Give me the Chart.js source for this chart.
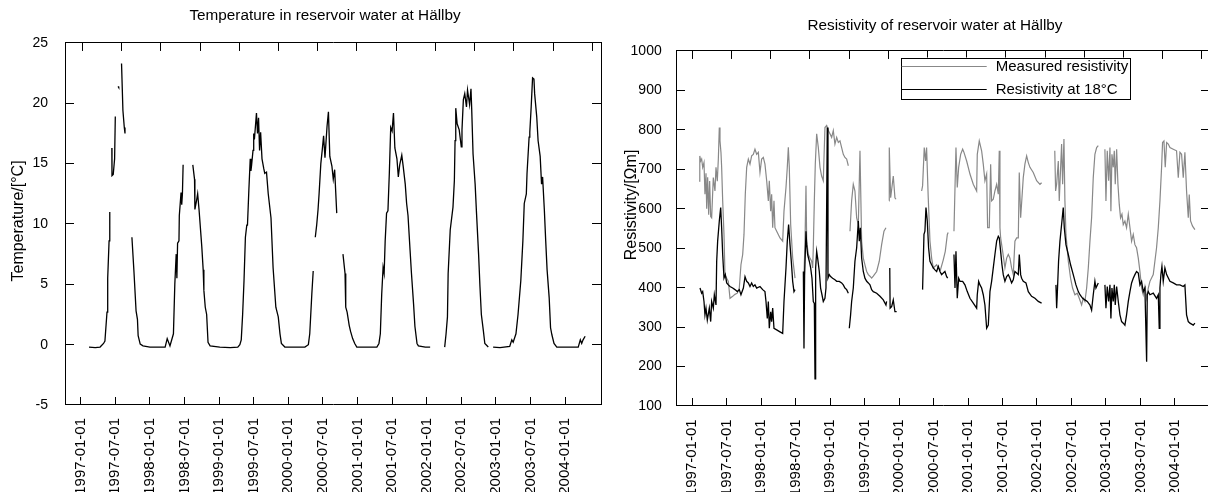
<!DOCTYPE html>
<html><head><meta charset="utf-8">
<script src="https://cdn.jsdelivr.net/npm/chart.js@4.4.1/dist/chart.umd.min.js"></script>
<style>
html,body{margin:0;padding:0;background:#fff;overflow:hidden;width:1208px;height:492px;}
canvas{position:absolute;top:0;}
#c1{left:0;} #c2{left:610px;}
</style></head><body>
<canvas id="c1" width="650" height="492"></canvas>
<canvas id="c2" width="650" height="492"></canvas>
<script>
// ---------- DATA ----------
const dateTickLabels = ['1997-01-01','1997-07-01','1998-01-01','1998-07-01','1999-01-01','1999-07-01','2000-01-01','2000-07-01','2001-01-01','2001-07-01','2002-01-01','2002-07-01','2003-01-01','2003-07-01','2004-01-01'];
const topTickSteps = [0,1,2,3,4,5,6,7,8,9,10,11,12,13];

// Temperature (decimal year, °C); null = gap in record
const tempYears = [1997.12,1997.21,1997.28,1997.33,1997.35,1997.38,1997.39,1997.41,1997.42,1997.43,1997.45,1997.452,1997.47,1997.49,1997.50,1997.52,1997.54,1997.55,1997.57,1997.59,1997.61,1997.63,1997.64,1997.69,1997.74,1997.77,1997.80,1997.82,1997.83,1997.86,1997.90,1998.00,1998.12,1998.22,1998.25,1998.29,
1998.34,1998.36,1998.38,1998.39,1998.40,1998.42,1998.425,1998.45,1998.46,1998.47,1998.48,1998.55,1998.62,1998.645,1998.65,1998.67,1998.69,1998.71,1998.75,1998.77,1998.78,1998.80,1998.82,1998.84,1998.87,1999.01,1999.16,1999.27,1999.30,
1999.32,1999.34,1999.36,1999.38,1999.40,1999.41,1999.43,1999.45,1999.46,1999.47,1999.49,1999.50,1999.51,1999.54,1999.555,1999.57,1999.585,1999.60,1999.62,1999.645,1999.66,1999.685,1999.71,1999.75,1999.78,1999.82,1999.855,1999.88,1999.90,1999.95,2000.10,2000.24,2000.29,
2000.31,2000.34,2000.36,2000.375,2000.39,2000.41,2000.43,2000.445,2000.47,2000.49,2000.51,2000.53,2000.56,2000.58,2000.60,2000.63,2000.65,2000.67,2000.70,2000.745,2000.79,2000.82,2000.83,2000.85,2000.88,2000.90,2000.93,2000.96,2000.99,2001.11,2001.28,2001.31,
2001.33,2001.35,2001.37,2001.385,2001.40,2001.42,2001.44,2001.46,2001.48,2001.50,2001.52,2001.54,2001.57,2001.59,2001.61,2001.64,2001.66,2001.69,2001.71,2001.73,2001.76,2001.78,2001.81,2001.83,2001.86,2001.88,2001.98,2002.05,2002.15,2002.26,
2002.28,2002.30,2002.31,2002.34,2002.38,2002.40,2002.41,2002.42,2002.44,2002.47,2002.50,2002.51,2002.53,2002.55,2002.575,2002.59,2002.62,2002.64,2002.65,2002.67,2002.70,2002.72,2002.75,2002.77,2002.79,2002.82,2002.84,2002.89,2002.925,2002.96,2003.06,2003.20,2003.23,2003.25,
2003.29,2003.32,2003.36,2003.39,2003.41,2003.44,2003.45,2003.48,2003.49,2003.51,2003.53,2003.55,2003.56,2003.59,2003.61,2003.64,2003.66,2003.675,2003.70,2003.72,2003.74,2003.77,2003.79,2003.81,2003.84,2003.88,2004.00,2004.19,2004.22,2004.24,2004.26,2004.29];
const tempValues = [-0.2,-0.25,-0.2,0.1,0.3,2.7,5.5,8.6,11.0,null,16.3,14.0,14.1,15.4,18.9,null,21.4,21.3,null,23.3,19.4,18.0,17.5,null,8.9,6.0,2.8,2.1,0.75,0.05,-0.1,-0.2,-0.2,-0.2,0.5,-0.1,
0.9,5.0,7.5,5.5,8.4,8.6,10.7,12.6,11.6,12.5,14.9,null,14.9,13.7,11.2,11.8,12.5,11.2,8.1,6.2,4.5,3.1,2.5,0.2,-0.1,-0.2,-0.25,-0.2,0.0,
0.4,2.5,5.3,8.9,9.9,9.9,12.8,15.4,14.4,14.9,16.1,17.5,17.0,19.2,17.5,18.8,16.1,17.6,15.4,14.6,14.2,14.3,12.5,10.5,6.4,3.1,2.3,0.9,0.1,-0.2,-0.2,-0.2,0.0,
0.9,4.2,6.1,null,8.9,9.9,11.2,12.5,15.0,16.1,17.3,15.5,18.1,19.3,15.6,14.8,13.7,14.5,10.9,null,7.5,5.9,3.1,2.7,1.6,1.1,0.5,0.1,-0.2,-0.2,-0.2,0.1,
0.9,4.2,6.4,5.9,8.6,10.9,11.1,14.2,18.0,17.7,19.2,16.3,15.4,13.9,14.9,15.7,14.8,13.3,11.7,10.7,7.8,5.9,3.4,1.5,0.1,-0.1,-0.2,-0.2,null,-0.2,
0.9,2.3,5.9,9.5,11.4,13.6,16.9,19.6,18.3,17.8,16.4,17.8,20.3,20.8,19.7,21.1,19.9,21.2,19.6,15.8,13.3,10.9,7.5,4.8,2.5,1.1,0.1,-0.2,null,-0.2,-0.25,-0.15,0.4,0.2,
0.9,2.5,5.3,8.6,11.7,12.5,14.2,17.2,17.6,19.7,22.1,22.0,20.8,18.9,16.9,15.6,13.3,13.9,11.2,8.6,6.2,3.9,1.4,0.8,0.1,-0.2,-0.2,-0.2,0.4,0.1,0.4,0.7];

// Measured resistivity (decimal year, ohm-m)
const measYears = [1997.10,1997.11,1997.123,1997.137,1997.152,1997.171,1997.185,1997.200,1997.210,1997.224,1997.239,1997.253,1997.268,1997.282,1997.306,1997.330,1997.345,1997.364,1997.379,1997.393,1997.403,1997.417,1997.427,1997.442,1997.461,1997.475,1997.500,1997.524,1997.548,1997.587,1997.620,1997.654,1997.683,1997.707,1997.732,1997.751,1997.770,1997.790,1997.814,1997.838,1997.862,1997.886,1997.910,1997.935,1997.959,1997.983,1998.007,1998.031,1998.055,1998.080,1998.104,1998.118,1998.138,1998.152,1998.167,1998.186,1998.200,1998.225,1998.273,1998.312,1998.331,1998.360,1998.379,1998.394,1998.408,1998.428,1998.457,1998.491,
1998.55,1998.621,1998.635,1998.650,1998.660,1998.684,1998.708,1998.732,1998.747,1998.756,1998.771,1998.785,1998.805,1998.829,1998.853,1998.877,1998.901,1998.925,1998.950,1998.974,1998.998,1999.022,1999.046,1999.070,1999.095,1999.119,1999.143,1999.167,1999.191,1999.215,1999.240,1999.264,
1999.276,1999.288,1999.312,1999.336,1999.360,1999.385,1999.409,1999.433,1999.457,1999.481,1999.505,1999.530,1999.554,1999.578,1999.602,1999.626,1999.675,1999.713,1999.747,1999.781,1999.810,
1999.83,1999.856,1999.858,1999.878,1999.916,1999.940,1999.955,
2000.15,2000.327,2000.341,2000.365,2000.385,2000.399,2000.423,2000.448,2000.472,2000.496,2000.545,2000.569,2000.600,2000.640,2000.670,2000.700,2000.712,
2000.75,2000.796,2000.811,2000.825,2000.844,2000.864,2000.893,2000.922,2000.941,2000.980,2001.028,2001.076,2001.125,2001.134,2001.163,2001.197,2001.221,2001.245,2001.270,2001.284,2001.308,2001.328,2001.342,2001.366,2001.390,2001.415,2001.439,2001.453,2001.463,2001.473,2001.502,2001.535,2001.560,2001.584,2001.608,2001.632,2001.656,2001.680,2001.705,2001.729,2001.743,2001.763,2001.782,2001.801,2001.825,2001.850,2001.874,2001.898,2001.946,2001.995,2002.043,2002.067,
2002.16,2002.258,2002.270,2002.285,2002.309,2002.323,2002.343,2002.357,2002.372,2002.391,2002.405,2002.420,2002.454,2002.487,2002.516,2002.550,2002.584,2002.613,2002.647,2002.671,2002.695,2002.720,2002.744,2002.768,2002.792,2002.816,2002.840,2002.865,2002.889,
2002.94,2002.985,2003.000,2003.019,2003.039,2003.058,2003.072,2003.087,2003.106,2003.121,2003.135,2003.155,2003.174,2003.193,2003.212,2003.232,2003.251,2003.275,2003.299,2003.324,2003.348,2003.372,2003.396,2003.420,2003.444,2003.469,2003.493,2003.517,2003.541,2003.565,2003.590,2003.614,2003.638,2003.686,2003.734,2003.759,2003.783,2003.807,2003.821,2003.841,2003.860,2003.880,2003.904,2003.928,2003.976,2004.024,2004.049,2004.073,2004.097,2004.121,2004.145,2004.169,2004.194,2004.208,2004.227,2004.256,2004.290];
const measValues = [670,734,721,726,705,717,637,690,600,680,585,670,580,577,679,645,705,670,726,806,772,743,705,620,535,433,424,416,373,378,383,386,399,458,484,535,637,705,726,713,734,738,751,738,743,692,726,730,713,671,620,671,594,637,552,620,552,543,526,518,594,654,705,756,705,560,475,424,
null,433,509,658,518,484,475,467,450,500,620,713,790,755,705,683,671,806,811,798,790,781,798,764,781,768,772,755,738,730,726,709,
null,543,620,662,645,577,560,747,518,475,458,441,433,429,424,429,441,467,509,543,552,
null,620,755,628,683,628,624,
null,645,658,755,721,755,628,518,475,450,458,450,445,470,492,535,540,
null,543,654,755,654,705,738,751,743,721,688,662,645,738,772,747,713,671,688,552,552,713,620,624,645,662,637,747,552,526,492,450,475,484,475,450,433,518,526,526,692,577,628,679,713,734,717,705,692,671,662,666,
null,747,645,662,721,620,705,764,662,777,620,535,467,424,399,382,386,373,356,373,365,399,450,518,577,679,738,755,760,
null,751,620,747,671,755,594,738,705,747,662,751,662,611,577,586,560,569,552,586,552,518,535,509,501,475,441,399,382,403,373,399,416,433,501,552,620,705,768,772,705,768,764,755,751,747,679,743,738,679,743,645,577,636,569,556,547];

// Resistivity normalised to 18 °C (decimal year, ohm-m)
const res18Years = [1997.113,1997.137,1997.152,1997.171,1997.185,1997.200,1997.219,1997.248,1997.268,1997.282,1997.306,1997.321,1997.345,1997.355,1997.369,1997.393,1997.413,1997.427,1997.442,1997.461,1997.480,1997.500,1997.524,1997.548,1997.587,1997.620,1997.654,1997.683,1997.707,1997.742,1997.766,1997.790,1997.814,1997.838,1997.862,1997.886,1997.910,1997.935,1997.983,1998.022,1998.055,1998.070,1998.089,1998.104,1998.118,1998.138,1998.152,1998.167,1998.186,1998.225,1998.273,1998.312,1998.331,1998.360,1998.379,1998.398,1998.418,1998.437,1998.457,1998.476,1998.491,
1998.55,1998.612,1998.621,1998.630,1998.650,1998.660,1998.674,1998.698,1998.718,1998.737,1998.756,1998.771,1998.781,1998.790,1998.805,1998.819,1998.843,1998.862,1998.882,1998.901,1998.925,1998.940,1998.959,1998.969,1998.988,1999.007,1999.036,1999.070,1999.095,1999.133,1999.167,1999.191,1999.215,1999.240,1999.264,
1999.271,1999.278,1999.297,1999.312,1999.336,1999.360,1999.385,1999.409,1999.423,1999.438,1999.457,1999.481,1999.505,1999.530,1999.554,1999.578,1999.602,1999.626,1999.675,1999.723,1999.771,1999.810,1999.819,
1999.84,1999.865,1999.870,1999.892,1999.916,1999.940,1999.965,
2000.15,2000.341,2000.361,2000.375,2000.390,2000.409,2000.428,2000.448,2000.472,2000.496,2000.520,2000.545,2000.569,2000.593,2000.617,2000.641,2000.665,2000.690,2000.705,
2000.75,2000.796,2000.811,2000.825,2000.844,2000.864,2000.883,2000.922,2000.955,2000.989,2001.028,2001.076,2001.125,2001.134,2001.154,2001.173,2001.197,2001.221,2001.245,2001.270,2001.294,2001.318,2001.342,2001.366,2001.390,2001.415,2001.439,2001.453,2001.473,2001.492,2001.511,2001.535,2001.560,2001.584,2001.608,2001.632,2001.656,2001.680,2001.705,2001.729,2001.743,2001.763,2001.777,2001.801,2001.840,2001.874,2001.922,2001.970,2002.019,2002.067,
2002.16,2002.275,2002.285,2002.294,2002.313,2002.333,2002.357,2002.381,2002.396,2002.420,2002.454,2002.487,2002.526,2002.565,2002.599,2002.623,2002.662,2002.695,2002.729,2002.768,2002.792,2002.816,2002.840,2002.855,2002.889,
2002.94,2002.985,2003.000,2003.019,2003.039,2003.058,2003.072,2003.087,2003.106,2003.121,2003.135,2003.155,2003.179,2003.203,2003.227,2003.251,2003.275,2003.299,2003.324,2003.348,2003.372,2003.396,2003.420,2003.444,2003.469,2003.493,2003.517,2003.541,2003.565,2003.590,2003.599,2003.614,2003.638,2003.686,2003.734,2003.759,2003.773,2003.783,2003.797,2003.812,2003.831,2003.855,2003.880,2003.928,2003.976,2004.024,2004.073,2004.121,2004.145,2004.169,2004.194,2004.218,2004.266,2004.290];
const res18Values = [399,386,390,365,331,348,318,348,314,365,348,382,356,467,518,569,603,552,484,424,433,412,407,403,399,395,390,395,382,399,428,416,412,403,412,403,407,399,403,395,390,365,322,365,297,339,314,348,297,293,288,284,365,450,518,560,509,467,416,390,395,
null,441,246,430,543,509,484,467,450,424,365,360,169,450,492,475,441,399,382,365,373,399,806,424,433,428,424,420,416,416,412,407,399,395,386,
null,297,331,365,399,467,501,569,518,552,475,441,424,416,412,407,395,390,386,378,369,356,365,
null,450,348,352,369,339,339,
null,395,535,543,603,569,501,467,458,450,445,441,454,441,433,437,441,428,424,
null,484,399,492,373,424,416,416,407,390,373,361,348,382,416,407,399,382,356,297,305,390,416,450,484,518,530,526,492,458,433,416,428,433,424,412,420,441,437,433,484,433,424,416,412,390,378,373,365,361,
null,407,348,382,467,518,560,603,552,509,484,458,433,407,390,382,373,369,365,356,343,382,416,399,412,
null,407,348,403,365,407,322,399,365,407,356,403,365,331,314,310,305,331,365,390,412,424,433,441,437,407,416,390,399,212,382,390,382,386,373,382,297,399,433,454,416,450,433,416,412,407,407,403,407,331,314,310,305,310];

// ---------- HELPERS ----------
const FONT = "'Liberation Sans', Arial, Helvetica, sans-serif";
Chart.defaults.font.family = FONT;
Chart.defaults.color = '#000';
const pts = (xs, ys) => xs.map((x, i) => ({x: x, y: ys[i]}));
const tickYear = l => { const p = l.split('-').map(Number); return p[0] + (p[1] - 1) / 12; };

// rotated y-axis title, placed beside the plot
const axisTitle = {
  id: 'axisTitle',
  afterDraw(chart, args, o) {
    const ctx = chart.ctx, a = chart.chartArea;
    ctx.save();
    ctx.translate(o.x, a.top + o.dy);
    ctx.rotate(-Math.PI / 2);
    ctx.font = o.size + 'px ' + FONT;
    ctx.fillStyle = '#000'; ctx.textAlign = 'center'; ctx.textBaseline = 'middle';
    ctx.fillText(o.text, 0, 0);
    ctx.restore();
  }
};

function axes(cfg) {
  const tickGrid = len => ({display: true, drawOnChartArea: false, drawTicks: true, tickLength: len, color: '#000', tickColor: '#000', lineWidth: 1});
  const frame = {display: true, color: '#000', width: 1};
  return {
    x: {
      type: 'linear', position: 'bottom', min: cfg.xMin, max: cfg.xMax,
      afterBuildTicks: s => { s.ticks = dateTickLabels.map(l => ({value: tickYear(l)})); },
      ticks: {autoSkip: false, minRotation: 90, maxRotation: 90, padding: cfg.xPad, font: {size: 15}, color: '#000',
              callback: (v, i) => dateTickLabels[i]},
      grid: tickGrid(-8), border: frame,
      afterFit: s => { s.height = cfg.xH; }
    },
    xTop: {
      type: 'linear', position: 'top', min: cfg.tMin, max: cfg.tMax,
      afterBuildTicks: s => { s.ticks = topTickSteps.map(v => ({value: v})); },
      ticks: {display: false}, grid: tickGrid(-8), border: frame,
      afterFit: s => { s.height = 0; }
    },
    y: {
      type: 'linear', position: 'left', min: cfg.yMin, max: cfg.yMax,
      ticks: {stepSize: cfg.yStep, padding: cfg.yPad, font: {size: 14}, color: '#000', callback: v => String(v)},
      grid: tickGrid(-9), border: frame,
      afterFit: s => { s.width = cfg.yW; }
    },
    yRight: {
      type: 'linear', position: 'right', min: cfg.yMin, max: cfg.yMax,
      ticks: {stepSize: cfg.yStep, display: false}, grid: tickGrid(-9), border: frame,
      afterFit: s => { s.width = cfg.rW; }
    }
  };
}

// ---------- LEFT: temperature ----------
new Chart(document.getElementById('c1'), {
  type: 'line',
  data: {datasets: [{
    label: 'Temperature', data: pts(tempYears, tempValues),
    borderColor: '#000', borderWidth: 1.3, pointRadius: 0, tension: 0, spanGaps: false,
    xAxisID: 'x', yAxisID: 'y'
  }]},
  options: {
    responsive: false, animation: false, devicePixelRatio: 1,
    layout: {padding: 0},
    plugins: {
      legend: {display: false}, tooltip: {enabled: false},
      title: {display: true, text: 'Temperature in reservoir water at Hällby', color: '#000',
              font: {size: 15.3, weight: 'normal', lineHeight: 1.2}, padding: {top: 6.5, bottom: 18.1}},
      axisTitle: {text: 'Temperature/[°C]', x: 18.5, dy: 178, size: 16}
    },
    scales: axes({xMin: 1996.773, xMax: 2004.519, tMin: -0.441, tMax: 13.22, xPad: 21, xH: 87,
                  yMin: -5, yMax: 25, yStep: 5, yPad: 26, yW: 65, rW: 49})
  },
  plugins: [axisTitle]
});

// ---------- RIGHT: resistivity ----------
const boxLegend = {
  id: 'boxLegend',
  afterDraw(chart) {
    const ctx = chart.ctx, a = chart.chartArea;
    const bx = a.left + 224.7, by = a.top + 6.6, bw = 229.3, bh = 41;
    ctx.save();
    ctx.fillStyle = '#fff'; ctx.fillRect(bx, by, bw, bh);
    ctx.strokeStyle = '#000'; ctx.lineWidth = 1;
    ctx.strokeRect(Math.round(bx) + 0.5, Math.round(by) + 0.5, Math.round(bw), Math.round(bh));
    ctx.font = '15px ' + FONT;
    ctx.textBaseline = 'middle'; ctx.textAlign = 'left';
    chart.data.datasets.forEach((ds, i) => {
      const y = Math.round(by + 8 + i * 23.2) + 0.5;
      ctx.strokeStyle = ds.borderColor; ctx.lineWidth = 1.2;
      ctx.beginPath(); ctx.moveTo(bx + 1, y); ctx.lineTo(bx + 86, y); ctx.stroke();
      ctx.fillStyle = '#000';
      ctx.fillText(ds.label, bx + 95, y);
    });
    ctx.restore();
  }
};

new Chart(document.getElementById('c2'), {
  type: 'line',
  data: {datasets: [
    {label: 'Measured resistivity', data: pts(measYears, measValues), borderColor: '#888888', borderWidth: 1.2,
     pointRadius: 0, tension: 0, spanGaps: false, order: 2, xAxisID: 'x', yAxisID: 'y'},
    {label: 'Resistivity at 18°C', data: pts(res18Years, res18Values), borderColor: '#000000', borderWidth: 1.3,
     pointRadius: 0, tension: 0, spanGaps: false, order: 1, xAxisID: 'x', yAxisID: 'y'}
  ]},
  options: {
    responsive: false, animation: false, devicePixelRatio: 1,
    layout: {padding: 0},
    plugins: {
      legend: {display: false}, tooltip: {enabled: false},
      title: {display: true, text: 'Resistivity of reservoir water at Hällby', color: '#000',
              font: {size: 15.3, weight: 'normal', lineHeight: 1.2}, padding: {top: 16.5, bottom: 16.1}},
      axisTitle: {text: 'Resistivity/[Ωm]', x: 22, dy: 154, size: 16}
    },
    scales: axes({xMin: 1996.765, xMax: 2004.509, tMin: -0.416, tMax: 13.21, xPad: 21.4, xH: 86,
                  yMin: 100, yMax: 1000, yStep: 100, yPad: 23.3, yW: 66, rW: 50})
  },
  plugins: [boxLegend, axisTitle]
});
</script>
</body></html>
